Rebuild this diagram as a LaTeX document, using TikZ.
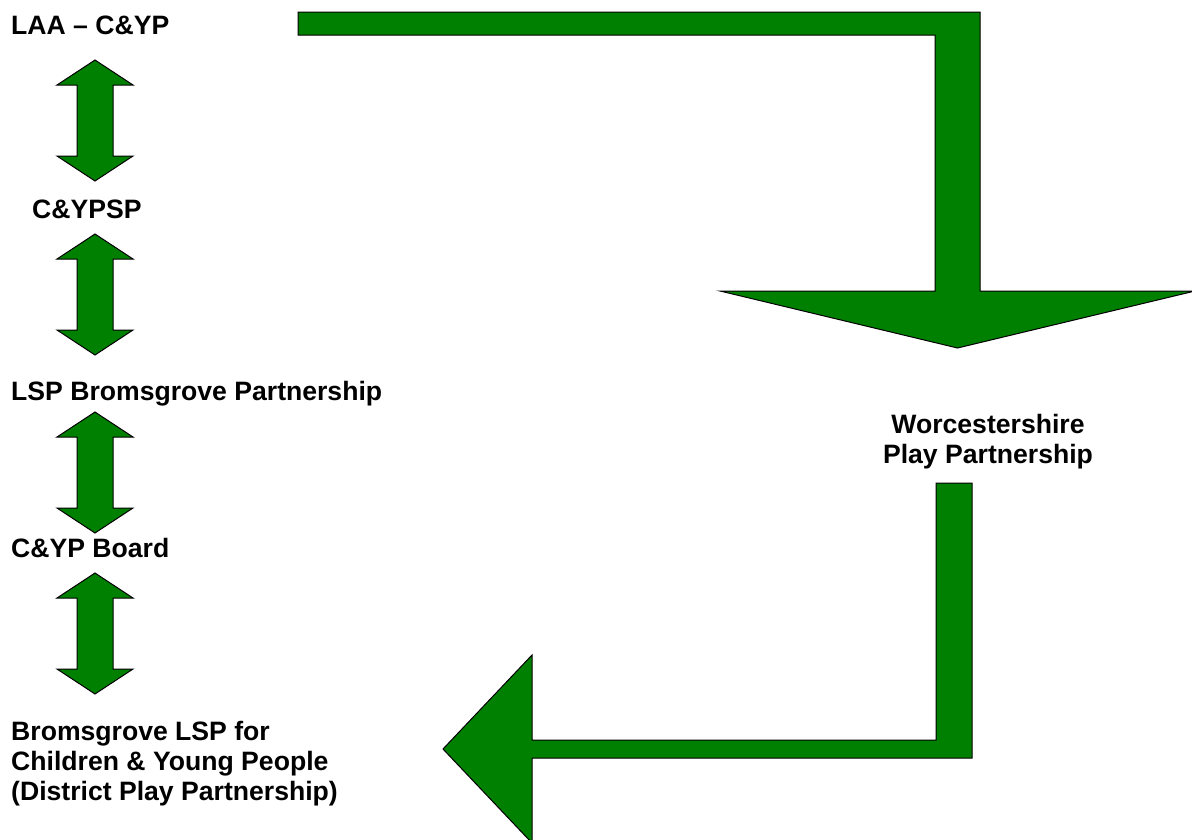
\documentclass[tikz,border=0pt]{standalone}
\usepackage{fontspec}
\setmainfont{Liberation Sans}
\usepackage{xcolor}
\usepackage{tikz}
\definecolor{ArrowGreen}{HTML}{008000}

\begin{document}
\begin{tikzpicture}[x=1pt, y=-1pt, font=\fontsize{26.6}{30}\selectfont\bfseries,
		blockarrow/.style={fill=ArrowGreen, draw=black, line width=1pt}]
	\useasboundingbox (0,0) rectangle (1192,839);

	% left column
	\node[anchor=base west, inner sep=0] (laa) at (11,34) {LAA -- C\&YP};
	\node[anchor=base west, inner sep=0] (csp) at (32,218) {C\&YPSP};
	\node[anchor=base west, inner sep=0] (lsp) at (11,400) {LSP Bromsgrove Partnership};
	\node[anchor=base west, inner sep=0] (board) at (11,557) {C\&YP Board};
	\foreach \line [count=\i] in {Bromsgrove LSP for, Children \& Young People, (District Play Partnership)} {
		\node[anchor=base west, inner sep=0] (brom\i) at (11,710+30*\i) {\line};
	}

	% right side
	\foreach \line [count=\i] in {Worcestershire, Play Partnership} {
		\node[anchor=base, inner sep=0] (worc\i) at (988,403+30*\i) {\line};
	}

	% double arrows
	\foreach \ytip in {60, 234, 412, 573} {
		\draw[blockarrow] (95,\ytip) -- ++(38,25) -- ++(-20,0) -- ++(0,71) -- ++(20,0) -- ++(-38,25)
			-- ++(-38,-25) -- ++(20,0) -- ++(0,-71) -- ++(-20,0) -- cycle;
	}

	% bent arrows
	\draw[blockarrow] (298,12) -- (980,12) -- (980,291) -- (1195,291) -- (957.5,348) -- (720,291)
		-- (935,291) -- (935,35) -- (298,35) -- cycle;
	\draw[blockarrow] (936,483) -- (972,483) -- (972,758) -- (532,758) -- (532,843) -- (443,749)
		-- (532,655) -- (532,740) -- (936,740) -- cycle;
\end{tikzpicture}
\end{document}
